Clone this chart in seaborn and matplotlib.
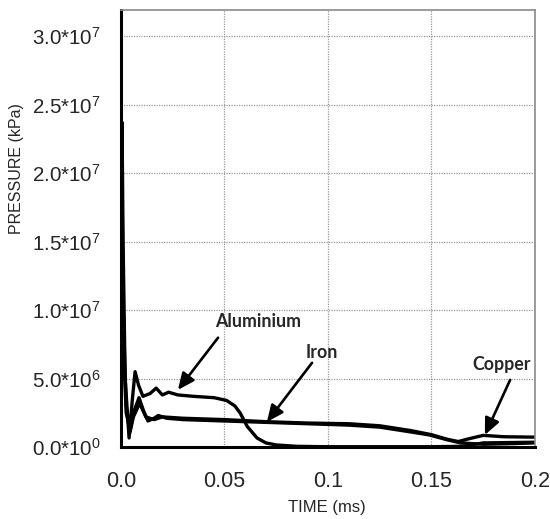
import numpy as np
import pandas as pd
import matplotlib
matplotlib.use("Agg")
import matplotlib.pyplot as plt
import seaborn as sns

# ---- data (time in ms, pressure in kPa) ----
al_t = [0, 0.0005, 0.001, 0.002, 0.0039, 0.0055, 0.0068, 0.0085, 0.0106, 0.014, 0.017,
        0.020, 0.023, 0.0275, 0.035, 0.045, 0.051, 0.055, 0.0575, 0.061, 0.0657, 0.07,
        0.075, 0.085, 0.1, 0.15, 0.165, 0.175, 0.2]
al_p = [0, 23.7e6, 15e6, 5e6, 0.66e6, 3.5e6, 5.5e6, 4.5e6, 3.7e6, 3.9e6, 4.3e6,
        3.8e6, 4.0e6, 3.8e6, 3.7e6, 3.6e6, 3.4e6, 3.0e6, 2.5e6, 1.5e6, 0.66e6, 0.3e6,
        0.15e6, 0.05e6, 0.02e6, 0.02e6, 0.05e6, 0.3e6, 0.35e6]

fe_t = [0, 0.0005, 0.001, 0.0025, 0.0042, 0.006, 0.0087, 0.011, 0.013, 0.016, 0.018,
        0.022, 0.03, 0.05, 0.07, 0.09, 0.11, 0.125, 0.14, 0.149, 0.157, 0.164, 0.175,
        0.19, 0.2]
fe_p = [0, 20e6, 10e6, 3e6, 1.0e6, 2.5e6, 3.6e6, 2.6e6, 1.9e6, 2.1e6, 2.3e6,
        2.1e6, 2.0e6, 1.9e6, 1.8e6, 1.7e6, 1.6e6, 1.45e6, 1.1e6, 0.88e6, 0.55e6, 0.3e6,
        0.2e6, 0.25e6, 0.3e6]

cu_t = [0, 0.0005, 0.001, 0.0025, 0.0045, 0.006, 0.009, 0.012, 0.016, 0.02, 0.03,
        0.05, 0.07, 0.09, 0.11, 0.125, 0.14, 0.15, 0.158, 0.163, 0.168, 0.175, 0.185, 0.2]
cu_p = [0, 17e6, 8e6, 2.5e6, 1.2e6, 2.2e6, 3.2e6, 2.2e6, 2.0e6, 2.2e6, 2.1e6,
        2.0e6, 1.85e6, 1.75e6, 1.7e6, 1.55e6, 1.2e6, 0.9e6, 0.55e6, 0.4e6, 0.6e6, 0.85e6,
        0.75e6, 0.72e6]

x_ticks = [0.0, 0.05, 0.1, 0.15, 0.2]
x_ticklabels = ["0.0", "0.05", "0.1", "0.15", "0.2"]
y_ticks = [0, 5e6, 1e7, 1.5e7, 2e7, 2.5e7, 3e7]
y_ticklabels = ["0.0*10$^{0}$", "5.0*10$^{6}$", "1.0*10$^{7}$", "1.5*10$^{7}$",
                "2.0*10$^{7}$", "2.5*10$^{7}$", "3.0*10$^{7}$"]

labels = ["Aluminium", "Iron", "Copper"]
label_xy = [(0.0662, 9.15e6), (0.0971, 6.88e6), (0.184, 6.0e6)]
arrow_tail = [(0.0469, 7.98e6), (0.0923, 6.15e6), (0.188, 4.9e6)]
arrow_head = [(0.0275, 4.17e6), (0.0705, 1.83e6), (0.1758, 0.88e6)]

df = pd.concat([
    pd.DataFrame({"t": al_t, "p": al_p, "m": "Aluminium"}),
    pd.DataFrame({"t": fe_t, "p": fe_p, "m": "Iron"}),
    pd.DataFrame({"t": cu_t, "p": cu_p, "m": "Copper"}),
], ignore_index=True)

sns.set_style("white")
plt.rcParams["font.family"] = ["Liberation Sans", "DejaVu Sans"]
plt.rcParams["mathtext.fontset"] = "custom"
plt.rcParams["mathtext.rm"] = "Liberation Sans"
plt.rcParams["mathtext.it"] = "Liberation Sans"

fig = plt.figure(figsize=(5.5, 5.19), dpi=100)
ax = fig.add_axes([0.22, 0.1387, 0.7527, 0.842])

sns.lineplot(data=df, x="t", y="p", hue="m", palette=["black"] * 3,
             linewidth=2.4, legend=False, ax=ax, sort=False, estimator=None)

ax.set_xlim(0, 0.2)
ax.set_ylim(0, 3.19e7)
ax.set_xticks(x_ticks)
ax.set_xticklabels(x_ticklabels, fontsize=15.5)
ax.set_yticks(y_ticks)
ax.set_yticklabels(y_ticklabels, fontsize=14.8)
ax.tick_params(direction="out", length=11.5, width=2, color="black")
ax.tick_params(axis="x", pad=6)
ax.tick_params(axis="y", pad=3)
ax.grid(True, linestyle=(0, (1, 1)), color="#9a9a9a", linewidth=0.9)

for side in ["left", "bottom"]:
    ax.spines[side].set_color("black")
    ax.spines[side].set_linewidth(2.2)
for side in ["top", "right"]:
    ax.spines[side].set_color("#8a8a8a")
    ax.spines[side].set_linewidth(1.2)

ax.set_xlabel("TIME (ms)", fontsize=12)
ax.xaxis.set_label_coords(0.497, -0.121)
ax.set_ylabel("PRESSURE (kPa)", fontsize=11.5)
ax.yaxis.set_label_coords(-0.234, 0.638)

for lab, xy, tail, head in zip(labels, label_xy, arrow_tail, arrow_head):
    ax.text(xy[0], xy[1], lab, fontsize=12.8, fontweight="bold", family="Lato",
            ha="center", va="center")
    ax.annotate("", xy=head, xytext=tail,
                arrowprops=dict(arrowstyle="-|>,head_length=1.0,head_width=0.45",
                                color="black", lw=1.9, shrinkA=0, shrinkB=0))

fig.savefig("out.png", dpi=100)
